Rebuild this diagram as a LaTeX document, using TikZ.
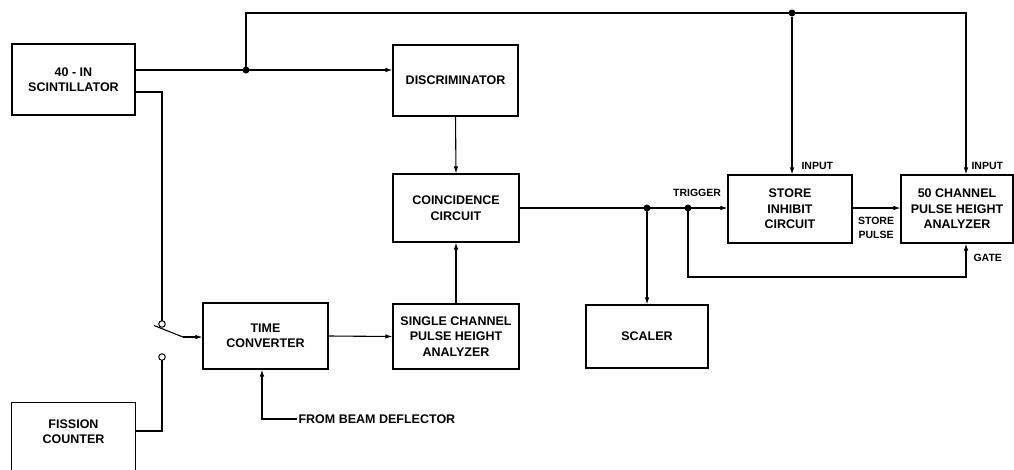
\documentclass[tikz,border=0pt]{standalone}
\usepackage{fontspec}
\setmainfont{Liberation Sans}
\usetikzlibrary{arrows.meta}
\begin{document}
\begin{tikzpicture}[x=1pt,y=-1pt,
  line width=1.1pt,
  every node/.style={font=\bfseries\fontsize{12.5}{15.5}\selectfont},
  blk/.style={draw,rectangle,align=center,inner sep=0pt,line width=1.1pt},
  lbl/.style={inner sep=1pt,align=center},
  small/.style={font=\bfseries\fontsize{10.5}{14}\selectfont},
  arr/.style={-{Latex[length=7pt,width=4.5pt]}},
  jdot/.style={circle,fill,inner sep=0pt,minimum size=7pt},
  term/.style={circle,draw,fill=white,inner sep=0pt,minimum size=6.5pt,line width=1pt}]
\useasboundingbox (0,0) rectangle (1014,469);
% boxes
\node[blk,minimum width=123pt,minimum height=71pt] (scint) at (73.5,79.5) {40 - IN\\SCINTILLATOR};
\node[blk,minimum width=125pt,minimum height=71pt] (disc) at (455.5,80.5) {DISCRIMINATOR};
\node[blk,minimum width=126pt,minimum height=68pt] (coinc) at (456,208) {COINCIDENCE\\CIRCUIT};
\node[blk,minimum width=126pt,minimum height=65pt] (sch) at (456,336.5) {SINGLE CHANNEL\\PULSE HEIGHT\\ANALYZER};
\node[blk,minimum width=125pt,minimum height=66pt] (tc) at (265.5,336) {TIME\\CONVERTER};
\node[lbl,minimum width=123pt,minimum height=57pt,inner sep=0pt] (fiss) at (73.5,431.5) {FISSION\\COUNTER};
\draw ([yshift=-12pt]fiss.south west) -- (fiss.north west) -- (fiss.north east) -- ([yshift=-12pt]fiss.south east);
\node[blk,minimum width=124pt,minimum height=68pt] (sinh) at (790,209) {STORE\\INHIBIT\\CIRCUIT};
\node[blk,minimum width=112pt,minimum height=68pt] (fifty) at (957,209) {50 CHANNEL\\PULSE HEIGHT\\ANALYZER};
\node[blk,minimum width=122pt,minimum height=63pt] (scaler) at (647,336.5) {SCALER};
% coordinates
\coordinate (j1) at (246,70);
\coordinate (topL) at (246,13);
\coordinate (topR) at (966,13);
\coordinate (s2a) at (135,92);
\coordinate (s2b) at (162,92);
\coordinate (fa) at (135,431);
\coordinate (fb) at (162,431);
\coordinate (blA) at (154,325.5);
\coordinate (blB) at (183,337);
\coordinate (d1) at (647,208);
\coordinate (d2) at (688,208);
\coordinate (gt) at (966,277);
\coordinate (bdc) at (262,419);
% junction marks
\node[jdot] (dj1) at (j1) {};
\node[jdot] (dtop) at (792,13) {};
\node[jdot] (dd1) at (d1) {};
\node[jdot] (dd2) at (d2) {};
% labels
\node[lbl,anchor=west] (beam) at (297,419) {FROM BEAM DEFLECTOR};
\node[lbl,small] (trig) at (697,193) {TRIGGER};
\node[lbl,small,anchor=west] (in1) at (800,166) {INPUT};
\node[lbl,small,anchor=west] (in2) at (970,166) {INPUT};
\node[lbl,small] (sp) at (876,228) {STORE\\PULSE};
\node[lbl,small,anchor=west] (gl) at (972,258) {GATE};
% connectors
\draw[arr] (scint.east |- j1) -- (disc.west |- j1);
\draw[arr] (j1) -- (topL) -- (topR) -- (topR |- fifty.north);
\draw[arr] (dtop) -- (dtop |- sinh.north);
\draw (s2a) -- (s2b) -- (162,321);
\draw (fa) -- (fb) -- (162,360);
\draw (blA) -- (blB);
\draw[arr] (blB) -- (tc.west |- blB);
\node[term] (sw1) at (162,324) {};
\node[term] (sw2) at (162,357) {};
\draw[arr] (tc.east) -- (sch.west);
\draw[arr] (beam.west) -- (bdc) -- (bdc |- tc.south);
\draw[arr] (sch.north) -- (coinc.south);
\draw[arr] (disc.south) -- (coinc.north);
\draw[arr] (coinc.east |- d1) -- (sinh.west |- d1);
\draw[arr] (d1) -- (d1 |- scaler.north);
\draw[arr] (d2) -- (d2 |- gt) -- (gt) -- (gt |- fifty.south);
\draw[arr] (sinh.east |- d1) -- (fifty.west |- d1);
\end{tikzpicture}
\end{document}
